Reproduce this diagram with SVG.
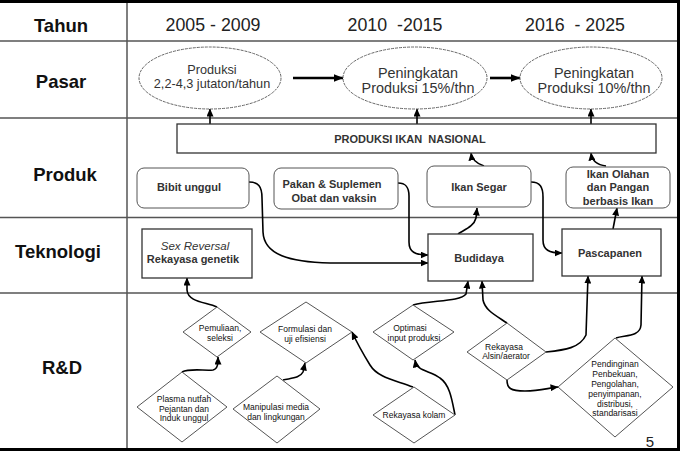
<svg xmlns="http://www.w3.org/2000/svg" width="681" height="455" viewBox="0 0 681 455">
<style>
.row{font-family:"Liberation Sans",Arial,sans-serif;font-weight:bold;font-size:18.5px;fill:#111;text-anchor:middle}
.yr{font-family:"Liberation Sans",Arial,sans-serif;font-size:17.8px;fill:#222;text-anchor:middle}
.grid{stroke:#555;stroke-width:1.5;fill:none}
.frame{stroke:#000;stroke-width:3;fill:none}
.ell{fill:#fff;stroke:#666;stroke-width:1;stroke-dasharray:3 1}
.et{font-family:"Liberation Sans",Arial,sans-serif;fill:#333;text-anchor:middle}
.box{fill:#fff;stroke:#333;stroke-width:1.3}
.rbox{fill:#fff;stroke:#555;stroke-width:1}
.bt{font-family:"Liberation Sans",Arial,sans-serif;font-weight:bold;font-size:11px;fill:#333;text-anchor:middle}
.dia{fill:#fff;stroke:#555;stroke-width:1}
.dt{font-family:"Liberation Sans",Arial,sans-serif;font-size:8.5px;fill:#111;text-anchor:middle}
.conn{fill:none;stroke:#000;stroke-width:1.6;marker-end:url(#ah)}
.thick{fill:none;stroke:#000;stroke-width:2.6;marker-end:url(#ah2)}
</style>
<defs>
<marker id="ah" markerUnits="userSpaceOnUse" markerWidth="8" markerHeight="7" refX="7.5" refY="3.5" orient="auto"><path d="M0,0 L8,3.5 L0,7 z" fill="#000"/></marker>
<marker id="ah2" markerUnits="userSpaceOnUse" markerWidth="10" markerHeight="8" refX="9.5" refY="4" orient="auto"><path d="M0,0 L10,4 L0,8 z" fill="#000"/></marker>
</defs>
<rect width="681" height="455" fill="#fff"/>
<g id="grid">
<line class="grid" x1="127" y1="2" x2="127" y2="449"/>
<line class="grid" x1="0" y1="41" x2="678" y2="41"/>
<line class="grid" x1="0" y1="118" x2="678" y2="118"/>
<line class="grid" x1="0" y1="217.5" x2="678" y2="217.5"/>
<line class="grid" x1="0" y1="293" x2="678" y2="293"/>
<path class="frame" d="M0,1.5 H678.5 V449.5 H0"/>
</g>
<g id="labels">
<text class="row" x="61" y="32">Tahun</text>
<text class="row" x="61" y="88">Pasar</text>
<text class="row" x="65" y="181">Produk</text>
<text class="row" x="58" y="258">Teknologi</text>
<text class="row" x="62" y="374">R&amp;D</text>
<text class="yr" x="213" y="31" xml:space="preserve">2005 - 2009</text>
<text class="yr" x="395" y="31" xml:space="preserve">2010  -2015</text>
<text class="yr" x="575" y="31" xml:space="preserve">2016  - 2025</text>
<text x="650" y="447" style="font-family:'Liberation Sans',Arial,sans-serif;font-size:15px;fill:#222;text-anchor:middle">5</text>
</g>
<g id="connectors">
<path class="thick" d="M293,78 L343,78"/>
<path class="thick" d="M490,78 L520,78"/>
<path class="conn" d="M210,124 L210,109"/>
<path class="conn" d="M417,124 L417,109"/>
<path class="conn" d="M591,124 L591,109"/>
<path class="conn" d="M484,166 C478,164 472,161 471,153"/>
<path class="conn" d="M606,166 C598,165 592,161 591,153"/>
<path class="conn" d="M249,182 C258,182 262,186 262,198 L263,232 C264,255 290,262 330,263 L428,263"/>
<path class="conn" d="M398,183 C406,183 409,187 409,196 L409,242 C409,252 415,255 428,255"/>
<path class="conn" d="M458,234 C466,229 474,226 476,218 L477,208"/>
<path class="conn" d="M531,182 C540,182 543,187 543,197 L543,240 C543,250 549,253 562,253"/>
<path class="conn" d="M613,229 L617,208"/>
<path class="conn" d="M217,307 C205,302 188,302 187,290 L187,278"/>
<path class="conn" d="M182,372 C190,368 205,371 213,370 C218,369 218,363 218,357"/>
<path class="conn" d="M283,380 C292,378 300,378 303,372 L305,363"/>
<path class="conn" d="M413,387 C395,380 378,378 370,365 C362,352 358,345 352,332"/>
<path class="conn" d="M455,415 C452,400 450,385 440,378 C430,370 417,372 415,360"/>
<path class="conn" d="M413,305 C430,300 460,302 466,294 L468,281"/>
<path class="conn" d="M507,323 C495,315 485,310 483,300 L482,281"/>
<path class="conn" d="M546,352 C565,350 580,348 586,335 L588,276"/>
<path class="conn" d="M507,380 C507,388 510,391 525,391 C540,391 548,388 558,387"/>
<path class="conn" d="M616,338 C625,335 640,337 641,325 L642,276"/>
</g>
<g id="pasar1"><ellipse class="ell" cx="210" cy="78" rx="71" ry="31"/>
<text class="et" x="212" y="74" font-size="12.7">Produksi</text>
<text class="et" x="212" y="88" font-size="12.7">2,2-4,3 jutaton/tahun</text></g>
<g id="pasar2"><ellipse class="ell" cx="415" cy="78" rx="72" ry="31"/>
<text class="et" x="418" y="78" font-size="14.4">Peningkatan</text>
<text class="et" x="418" y="93" font-size="14.4">Produksi 15%/thn</text></g>
<g id="pasar3"><ellipse class="ell" cx="591" cy="78" rx="71" ry="31"/>
<text class="et" x="594" y="78" font-size="14.4">Peningkatan</text>
<text class="et" x="594" y="93" font-size="14.4">Produksi 10%/thn</text></g>
<g id="produksi"><rect class="box" x="177" y="124" width="479" height="29"/>
<text class="bt" x="410" y="143" xml:space="preserve">PRODUKSI IKAN  NASIONAL</text></g>
<g id="bibit"><rect class="rbox" x="137" y="168" width="112" height="40" rx="7"/>
<text class="bt" x="189" y="191">Bibit unggul</text></g>
<g id="pakan"><rect class="rbox" x="274" y="168" width="124" height="41" rx="7"/>
<text class="bt" x="332" y="188">Pakan &amp; Suplemen</text>
<text class="bt" x="334" y="202">Obat dan vaksin</text></g>
<g id="segar"><rect class="rbox" x="427" y="166" width="104" height="41" rx="7"/>
<text class="bt" x="479" y="191">Ikan Segar</text></g>
<g id="olahan"><rect class="rbox" x="566" y="167" width="104" height="41" rx="7"/>
<text class="bt" x="618" y="178">Ikan Olahan</text>
<text class="bt" x="618" y="191">dan Pangan</text>
<text class="bt" x="618" y="205">berbasis Ikan</text></g>
<g id="sexrev"><rect class="box" x="142" y="229" width="110" height="49"/>
<text class="et" x="195" y="250" font-size="11.5" font-style="italic">Sex Reversal</text>
<text class="bt" x="193" y="263">Rekayasa genetik</text></g>
<g id="budidaya"><rect class="box" x="428" y="234" width="105" height="47"/>
<text class="bt" x="479" y="262">Budidaya</text></g>
<g id="pascapanen"><rect class="box" x="562" y="229" width="99" height="47"/>
<text class="bt" x="610" y="257">Pascapanen</text></g>
<g id="pemuliaan"><path class="dia" d="M217,307 L251,332 L217,357 L183,332 Z"/>
<text class="dt" x="220" y="331">Pemuliaan,</text>
<text class="dt" x="220" y="341">seleksi</text></g>
<g id="formulasi"><path class="dia" d="M306,302 L352,332 L306,363 L260,332 Z"/>
<text class="dt" x="305" y="332">Formulasi dan</text>
<text class="dt" x="305" y="342">uji efisiensi</text></g>
<g id="plasma"><path class="dia" d="M182,372 L227,407 L182,442 L137,407 Z"/>
<text class="dt" x="184" y="402">Plasma nutfah</text>
<text class="dt" x="184" y="411.5">Pejantan dan</text>
<text class="dt" x="184" y="421">Induk unggul</text></g>
<g id="manipulasi"><path class="dia" d="M277,376 L320,409 L277,443 L233,409 Z"/>
<text class="dt" x="276" y="410">Manipulasi media</text>
<text class="dt" x="276" y="419.5">dan lingkungan</text></g>
<g id="optimasi"><path class="dia" d="M413,305 L454,332 L413,360 L373,332 Z"/>
<text class="dt" x="410" y="331">Optimasi</text>
<text class="dt" x="414" y="341">input produksi</text></g>
<g id="kolam"><path class="dia" d="M414,387 L455,415 L414,443 L373,415 Z"/>
<text class="dt" x="414" y="418">Rekayasa kolam</text></g>
<g id="alsin"><path class="dia" d="M507,323 L546,352 L507,380 L467,352 Z"/>
<text class="dt" x="504" y="349.5">Rekayasa</text>
<text class="dt" x="506" y="359">Alsin/aerator</text></g>
<g id="pendinginan"><path class="dia" d="M615,338 L673,387 L615,437 L558,387 Z"/>
<text class="dt" x="615" y="367">Pendinginan</text>
<text class="dt" x="615" y="377">Penbekuan,</text>
<text class="dt" x="615" y="387">Pengolahan,</text>
<text class="dt" x="615" y="397">penyimpanan,</text>
<text class="dt" x="615" y="406.5">distribusi,</text>
<text class="dt" x="615" y="416">standarisasi</text></g>
</svg>
